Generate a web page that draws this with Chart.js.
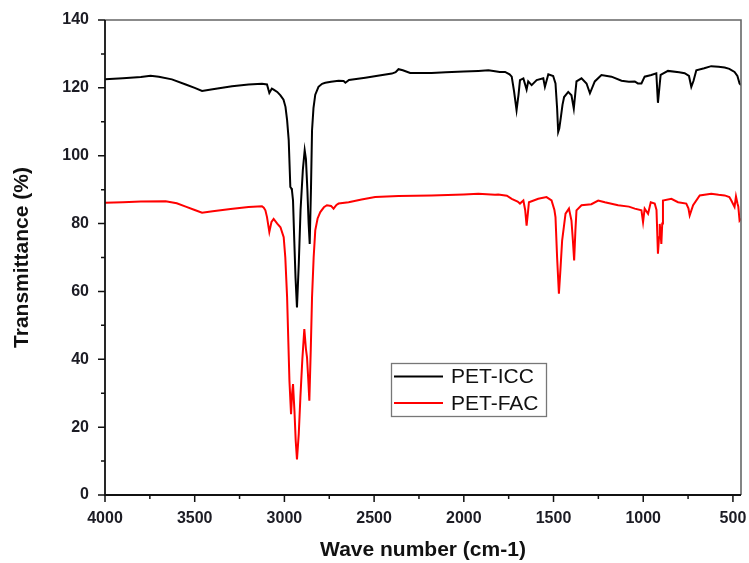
<!DOCTYPE html>
<html>
<head>
<meta charset="utf-8">
<script src="https://cdn.jsdelivr.net/npm/chart.js@4.4.1/dist/chart.umd.min.js"></script>
<style>
  html, body { margin: 0; padding: 0; background: #fff; }
  #wrap { width: 749px; height: 563px; }
</style>
</head>
<body>
<div id="wrap"><canvas id="c" width="749" height="563"></canvas></div>
<script>
// ---- Data ----
const seriesNames = ["PET-ICC", "PET-FAC"];
const xTicks = [4000, 3500, 3000, 2500, 2000, 1500, 1000, 500];
const yTicks = [0, 20, 40, 60, 80, 100, 120, 140];

const iccWave = [4000,3900,3800,3746,3700,3627,3550,3500,3459,3400,3292,3200,3125,3097,3084,3070,3060,3040,3022,3005,2994,2985,2976,2967,2962,2958,2952,2945,2938,2930,2920,2910,2897,2887,2880,2872,2865,2859,2852,2846,2838,2828,2810,2790,2772,2740,2698,2670,2660,2640,2600,2549,2480,2401,2380,2364,2340,2299,2250,2180,2100,2000,1919,1863,1826,1800,1770,1745,1733,1720,1706,1695,1687,1668,1650,1641,1622,1594,1557,1548,1529,1502,1489,1480,1474,1468,1459,1450,1441,1418,1400,1387,1372,1344,1316,1297,1270,1233,1177,1121,1080,1047,1030,1010,992,955,927,918,910,903,862,800,769,745,732,720,704,660,621,580,546,520,491,475,463,455];
const iccT = [122.5,122.8,123.2,123.6,123.3,122.5,121.0,120.0,119.1,119.6,120.5,121.0,121.2,121.0,118.5,119.8,119.5,118.8,117.8,116.5,114.4,110.5,104.6,90.8,90.4,89.8,86.8,75,64,55.3,68,84,96,101.6,99,90,80,74,90,107.5,114,118,120.3,121.2,121.5,121.8,122.1,122.0,121.5,122.3,122.6,123.0,123.6,124.2,124.6,125.5,125.2,124.4,124.4,124.4,124.6,124.8,125.0,125.2,124.9,124.7,124.7,124.0,123.3,119,113.4,118,122.3,122.8,119.5,121.9,120.8,122.3,122.8,120.3,124.0,123.5,121.3,114,107.0,108,111.4,115,117.3,118.8,117.8,113.9,121.9,122.8,121.3,118.4,121.9,123.8,123.3,122.1,121.8,121.9,121.3,121.3,123.3,123.8,124.3,115.6,120,123.8,125.0,124.6,124.3,123.5,120.3,122,125.2,125.8,126.4,126.2,126.0,125.6,124.7,123.5,121.3,120.8];

const facWave = [4000,3900,3800,3662,3600,3550,3500,3459,3400,3300,3200,3125,3115,3106,3097,3084,3072,3060,3040,3022,3004,2995,2985,2978,2972,2963,2957,2952,2944,2937,2930,2920,2911,2900,2889,2880,2874,2867,2861,2853,2846,2837,2828,2815,2800,2780,2763,2740,2726,2710,2698,2642,2570,2494,2364,2180,2000,1919,1826,1808,1760,1733,1700,1687,1668,1658,1650,1643,1637,1585,1539,1511,1495,1489,1480,1470,1462,1452,1433,1414,1400,1392,1385,1378,1372,1344,1289,1251,1214,1140,1080,1047,1010,1001,992,973,958,936,926,918,912,908,903,899,894,890,843,806,760,748,741,722,685,621,580,546,520,509,491,483,475,470,463,455];
const facT = [86.1,86.3,86.5,86.6,86.0,85.0,84.0,83.2,83.6,84.3,84.9,85.1,84.7,83.9,81.9,77.5,80.5,81.4,80.0,78.9,76.0,70,58.3,45,33.7,23.8,30,32.7,24.8,16,10.5,18,28.7,40,48.9,43,40.6,34,27.8,43,58.3,70,78.0,81.5,83.4,84.8,85.4,85.2,84.4,85.5,85.9,86.3,87.1,87.8,88.1,88.3,88.6,88.8,88.5,88.6,88.2,87.3,86.5,85.9,86.8,84,79.4,83,86.3,87.3,87.8,86.8,84,81.9,70,59.3,66,75.0,82.9,84.4,80.9,75,69.1,78,83.9,85.4,85.7,86.8,86.3,85.4,85.0,84.4,83.9,80.4,84.4,82.9,86.3,85.9,84,71.1,76,79.9,77,74.0,80,86.8,87.3,86.3,85.9,84.5,82.4,85.4,88.3,88.8,88.5,88.3,87.8,86.8,84.9,88,86,85,80.9,81.5];

const seriesColors = ["#000000", "#ff0000"];

function toPoints(xs, ys) { return xs.map((x, i) => ({ x: x, y: ys[i] })); }

const FONT = "'Liberation Sans', Arial, Helvetica, sans-serif";

// ---- Plugin: frame, minor/major outward ticks, legend box ----
const decor = {
  id: 'decor',
  afterDraw(chart) {
    const ctx = chart.ctx;
    const a = chart.chartArea;
    const xs = chart.scales.x, ys = chart.scales.y;
    ctx.save();
    // top & right frame lines (grey)
    ctx.strokeStyle = '#666';
    ctx.lineWidth = 1.6;
    ctx.beginPath();
    ctx.moveTo(a.left, a.top); ctx.lineTo(a.right, a.top); ctx.lineTo(a.right, a.bottom);
    ctx.stroke();
    // left & bottom axis lines
    ctx.strokeStyle = '#111';
    ctx.lineWidth = 1.8;
    ctx.beginPath();
    ctx.moveTo(a.left, a.top); ctx.lineTo(a.left, a.bottom); ctx.lineTo(a.right, a.bottom);
    ctx.stroke();
    // ticks
    ctx.lineWidth = 1.5;
    ctx.beginPath();
    for (let v = 500; v <= 4000; v += 250) {
      const px = xs.getPixelForValue(v);
      const len = (v % 500 === 0) ? 7 : 4;
      ctx.moveTo(px, a.bottom); ctx.lineTo(px, a.bottom + len);
    }
    for (let v = 0; v <= 140; v += 10) {
      const py = ys.getPixelForValue(v);
      const len = (v % 20 === 0) ? 7 : 4;
      ctx.moveTo(a.left, py); ctx.lineTo(a.left - len, py);
    }
    ctx.stroke();
    // legend
    const lx = 391.5, ly = 363.5, lw = 155, lh = 53;
    ctx.fillStyle = '#fff';
    ctx.fillRect(lx, ly, lw, lh);
    ctx.strokeStyle = '#777';
    ctx.lineWidth = 1.3;
    ctx.strokeRect(lx, ly, lw, lh);
    ctx.font = "21px " + FONT;
    ctx.textBaseline = 'middle';
    ctx.textAlign = 'left';
    chart.data.datasets.forEach((ds, i) => {
      const yy = 376.5 + i * 26.5;
      ctx.strokeStyle = ds.borderColor;
      ctx.lineWidth = 2;
      ctx.beginPath();
      ctx.moveTo(394, yy); ctx.lineTo(443, yy);
      ctx.stroke();
      ctx.fillStyle = '#111';
      ctx.fillText(ds.label, 451, yy + 1);
    });
    ctx.restore();
  }
};

new Chart(document.getElementById('c'), {
  type: 'line',
  data: {
    datasets: [
      { label: seriesNames[0], data: toPoints(iccWave, iccT), borderColor: seriesColors[0], borderWidth: 2, pointRadius: 0, tension: 0, fill: false },
      { label: seriesNames[1], data: toPoints(facWave, facT), borderColor: seriesColors[1], borderWidth: 2, pointRadius: 0, tension: 0, fill: false }
    ]
  },
  options: {
    responsive: false,
    animation: false,
    devicePixelRatio: 1,
    layout: { padding: { top: 20, right: 8, left: 0, bottom: 0 } },
    plugins: { legend: { display: false }, tooltip: { enabled: false } },
    scales: {
      x: {
        type: 'linear',
        reverse: true,
        min: 455, max: 4000,
        grid: { display: false, drawTicks: false },
        border: { display: false },
        afterBuildTicks: (s) => { s.ticks = xTicks.map(v => ({ value: v })); },
        afterFit: (s) => { s.height = 68; s.paddingLeft = 0; s.paddingRight = 0; },
        ticks: { autoSkip: false, maxRotation: 0, padding: 14, color: '#1c1c24', callback: (v) => String(v), font: { family: FONT, size: 16, weight: 'bold' } },
        title: { display: true, text: 'Wave number (cm-1)', color: '#111', padding: { top: 0, bottom: 0 }, font: { family: FONT, size: 21, weight: 'bold' } }
      },
      y: {
        min: 0, max: 140,
        grid: { display: false, drawTicks: false },
        border: { display: false },
        afterBuildTicks: (s) => { s.ticks = yTicks.map(v => ({ value: v })); },
        afterFit: (s) => { s.width = 105; s.paddingTop = 0; s.paddingBottom = 0; },
        ticks: { padding: 16, color: '#1c1c24', callback: (v) => String(v), font: { family: FONT, size: 16, weight: 'bold' } },
        title: { display: true, text: 'Transmittance (%)', color: '#111', padding: { top: 10, bottom: 0 }, font: { family: FONT, size: 21, weight: 'bold' } }
      }
    }
  },
  plugins: [decor]
});
</script>
</body>
</html>
